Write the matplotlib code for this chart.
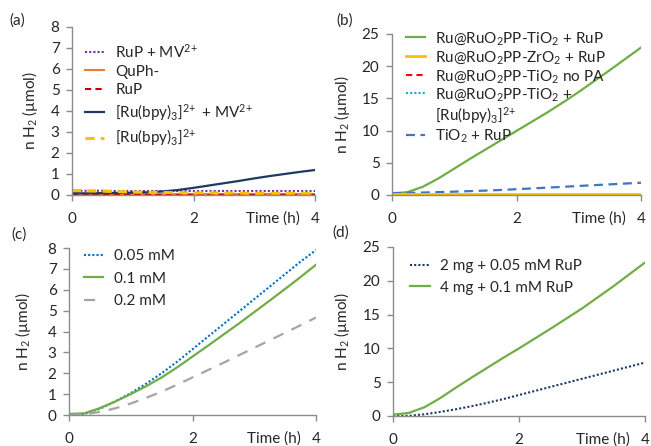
import matplotlib
matplotlib.use("Agg")
import matplotlib.pyplot as plt
from matplotlib.lines import Line2D

plt.rcParams['font.family'] = ['Lato', 'DejaVu Sans']
plt.rcParams['mathtext.fontset'] = 'custom'
plt.rcParams['mathtext.rm'] = 'Lato'
plt.rcParams['font.size'] = 11

# time grid (h)
t = [0, 0.25, 0.5, 0.75, 1, 1.25, 1.5, 1.75, 2, 2.25, 2.5, 2.75, 3, 3.25, 3.5, 3.75, 4]

# (a) controls
a_rup_mv = [0.2, 0.2, 0.2, 0.19, 0.19, 0.19, 0.19, 0.19, 0.19, 0.19, 0.19, 0.19, 0.19, 0.19, 0.19, 0.19, 0.19]
a_quph = [0.05] * 17
a_rup = [0.02] * 17
a_bpy_mv = [0.08, 0.08, 0.09, 0.10, 0.11, 0.13, 0.17, 0.24, 0.34, 0.45, 0.56, 0.67, 0.79, 0.90, 1.00, 1.10, 1.19]
a_bpy = [0.22, 0.2, 0.18, 0.16, 0.14, 0.13, 0.12, 0.11, 0.1, 0.1, 0.09, 0.09, 0.08, 0.08, 0.08, 0.08, 0.08]

# (b) particles
b_tio2_rup = [0.2, 0.45, 1.3, 2.6, 4.1, 5.6, 7.05, 8.5, 9.95, 11.4, 12.85, 14.4, 16.0, 17.7, 19.4, 21.15, 22.9]
b_zro2_rup = [0.1] * 17
b_no_pa = [0.05] * 17
b_tio2_bpy = [0.05] * 17
b_bare_tio2 = [0.3, 0.33, 0.38, 0.45, 0.52, 0.6, 0.68, 0.78, 0.9, 1.02, 1.14, 1.27, 1.4, 1.53, 1.65, 1.78, 1.9]

# (c) RuP concentration
c_005 = [0, 0.05, 0.3, 0.65, 1.05, 1.5, 2.0, 2.55, 3.15, 3.75, 4.35, 4.95, 5.55, 6.15, 6.75, 7.35, 7.9]
c_01 = [0.05, 0.08, 0.33, 0.65, 1.0, 1.38, 1.8, 2.28, 2.8, 3.32, 3.85, 4.38, 4.93, 5.48, 6.04, 6.61, 7.2]
c_02 = [0, 0.03, 0.15, 0.32, 0.55, 0.82, 1.12, 1.45, 1.8, 2.15, 2.5, 2.86, 3.22, 3.58, 3.94, 4.3, 4.67]

# (d) loading
d_2mg = [0, 0.03, 0.25, 0.6, 1.0, 1.45, 1.95, 2.5, 3.1, 3.7, 4.3, 4.9, 5.5, 6.1, 6.7, 7.3, 7.9]
d_4mg = [0.2, 0.45, 1.3, 2.65, 4.2, 5.7, 7.15, 8.6, 10.0, 11.45, 12.9, 14.4, 15.9, 17.55, 19.2, 20.95, 22.7]

spine_col = '#8c8c8c'
text_col = '#262626'
SUP = r'$\mathregular{^{2\!+}}$'
SUB2 = r'$\mathregular{_2}$'
SUB3 = r'$\mathregular{_3}$'

fig = plt.figure(figsize=(6.51, 4.46), dpi=100)
fig.patch.set_facecolor('w')


def style(ax, ymax, ystep, lab_x):
    ax.set_xlim(0, 4)
    ax.set_ylim(0, ymax)
    ax.set_xticks([0, 2, 4])
    ax.set_yticks(range(0, ymax + 1, ystep))
    for s in ['top', 'right']:
        ax.spines[s].set_visible(False)
    for s in ['left', 'bottom']:
        ax.spines[s].set_color(spine_col)
        ax.spines[s].set_linewidth(1.0)
    ax.tick_params(colors=spine_col, labelcolor=text_col, length=4, width=1.0)
    ax.tick_params(axis='x', pad=8)
    ax.tick_params(axis='y', pad=5)
    ax.set_ylabel('n H' + SUB2 + ' (µmol)', color=text_col)
    ax.yaxis.set_label_coords(lab_x, 0.5)
    ax.annotate('Time (h)', xy=(1, 0), xycoords='axes fraction', xytext=(-15, -24),
                textcoords='offset pixels', ha='right', va='center', color=text_col)


leg_kw = dict(loc='upper left', frameon=False, handlelength=1.25, handletextpad=0.7,
              borderaxespad=0, labelcolor=text_col)

# (a)
ax = fig.add_axes([0.1106, 0.5628, 0.3733, 0.3767])
ax.plot(t, a_rup_mv, color='#7030A0', lw=1.5, ls=(0, (1, 1)), label='RuP + MV' + SUP)
ax.plot(t, a_quph, color='#ED7D31', lw=1.5, label='QuPh-')
ax.plot(t, a_rup, color='#C00000', lw=1.5, ls=(0, (3, 2)), label='RuP')
ax.plot(t, a_bpy_mv, color='#203864', lw=1.6, label='[Ru(bpy)' + SUB3 + ']' + SUP + ' + MV' + SUP)
ax.plot(t, a_bpy, color='#FFC000', lw=2.2, ls=(0, (3, 2)), label='[Ru(bpy)' + SUB3 + ']' + SUP)
style(ax, 8, 1, -0.13)
ax.legend(bbox_to_anchor=(0.03, 0.945), labelspacing=0.3, **leg_kw)

# (b)
ax = fig.add_axes([0.6022, 0.5628, 0.3825, 0.361])
l_main, = ax.plot(t, b_tio2_rup, color='#70AD47', lw=1.6)
l_nopa, = ax.plot(t, b_no_pa, color='#FF0000', lw=1.5, ls=(0, (3, 2)))
l_bpy, = ax.plot(t, b_tio2_bpy, color='#00B0F0', lw=1.5, ls=(0, (1, 1)))
l_bare, = ax.plot(t, b_bare_tio2, color='#4472C4', lw=1.6, ls=(0, (4, 2.5)))
l_zro2, = ax.plot(t, b_zro2_rup, color='#FFC000', lw=2.0)
blank = Line2D([], [], color='none')
handles = [l_main, l_zro2, l_nopa, l_bpy, blank, l_bare]
labels = ['Ru@RuO' + SUB2 + 'PP-TiO' + SUB2 + ' + RuP',
          'Ru@RuO' + SUB2 + 'PP-ZrO' + SUB2 + ' + RuP',
          'Ru@RuO' + SUB2 + 'PP-TiO' + SUB2 + ' no PA',
          'Ru@RuO' + SUB2 + 'PP-TiO' + SUB2 + ' +',
          '[Ru(bpy)' + SUB3 + ']' + SUP,
          'TiO' + SUB2 + ' + RuP']
style(ax, 25, 5, -0.16)
ax.legend(handles, labels, bbox_to_anchor=(0.03, 1.06), labelspacing=0.12, **leg_kw)

# (c)
ax = fig.add_axes([0.106, 0.0695, 0.3794, 0.3744])
ax.plot(t, c_005, color='#0070C0', lw=1.5, ls=(0, (1, 1)), label='0.05 mM')
ax.plot(t, c_01, color='#70AD47', lw=1.6, label='0.1 mM')
ax.plot(t, c_02, color='#A5A5A5', lw=1.6, ls=(0, (5, 4)), label='0.2 mM')
style(ax, 8, 1, -0.146)
ax.legend(bbox_to_anchor=(0.035, 1.03), labelspacing=0.55, **leg_kw)

# (d)
ax = fig.add_axes([0.6037, 0.0673, 0.3871, 0.379])
ax.plot(t, d_2mg, color='#203864', lw=1.5, ls=(0, (1, 1)), label='2 mg + 0.05 mM RuP')
ax.plot(t, d_4mg, color='#70AD47', lw=1.6, label='4 mg + 0.1 mM RuP')
style(ax, 25, 5, -0.163)
ax.legend(bbox_to_anchor=(0.045, 0.965), labelspacing=0.5, **leg_kw)

fig.text(0.015, 0.955, '(a)', color=text_col, va='center')
fig.text(0.516, 0.955, '(b)', color=text_col, va='center')
fig.text(0.018, 0.473, '(c)', color=text_col, va='center')
fig.text(0.511, 0.478, '(d)', color=text_col, va='center')

fig.savefig('out.png', dpi=100)
